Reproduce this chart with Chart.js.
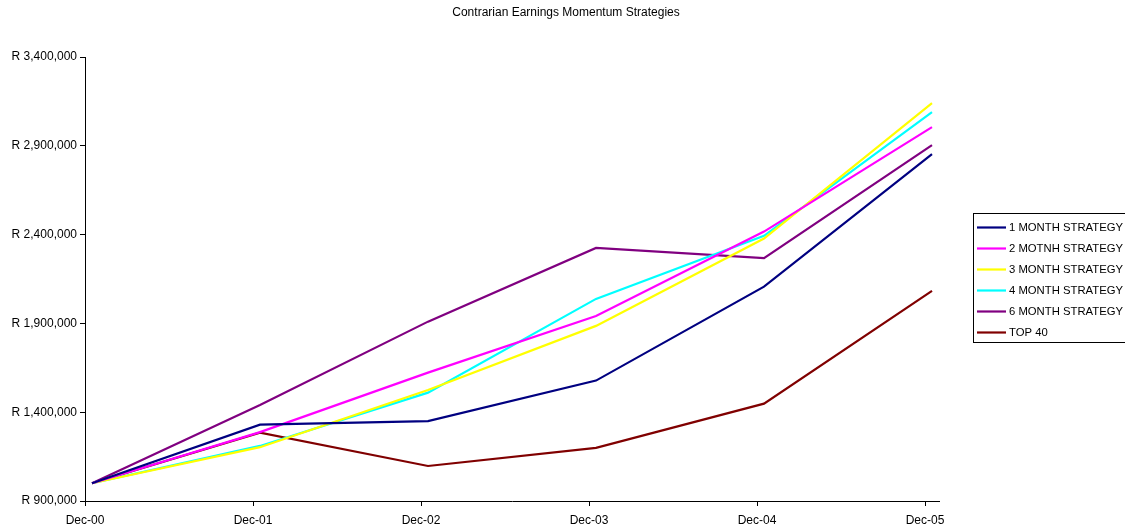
<!DOCTYPE html>
<html>
<head>
<meta charset="utf-8">
<script src="https://cdn.jsdelivr.net/npm/chart.js@4.4.1/dist/chart.umd.min.js"></script>
<style>
  html, body { margin: 0; padding: 0; background: #ffffff; }
  #wrap { width: 1125px; height: 529px; position: relative; }
</style>
</head>
<body>
<div id="wrap"><canvas id="c" width="1125" height="529"></canvas></div>
<script>
// Year-end periods (monthly date axis, one point per December)
const categories = ['Dec-00', 'Dec-01', 'Dec-02', 'Dec-03', 'Dec-04', 'Dec-05'];

// Portfolio values in Rand, starting from R1,000,000
const oneMonth   = [1000000, 1330000, 1350000, 1578000, 2107000, 2853000];
const twoMonth   = [1000000, 1288000, 1623000, 1942000, 2417000, 3005000];
const threeMonth = [1000000, 1203000, 1525000, 1886000, 2378000, 3140000];
const fourMonth  = [1000000, 1210000, 1510000, 2038000, 2393000, 3090000];
const sixMonth   = [1000000, 1440000, 1910000, 2325000, 2267000, 2904000];
const top40      = [1000000, 1285000, 1097000, 1199000, 1448000, 2083000];

const seriesNames = ['1 MONTH STRATEGY', '2 MOTNH STRATEGY', '3 MONTH STRATEGY',
                     '4 MONTH STRATEGY', '6 MONTH STRATEGY', 'TOP 40'];
const seriesColors = ['#000080', '#FF00FF', '#FFFF00', '#00FFFF', '#800080', '#800000'];
const seriesValues = [oneMonth, twoMonth, threeMonth, fourMonth, sixMonth, top40];

const yTickValues = [900000, 1400000, 1900000, 2400000, 2900000, 3400000];

const FONT = '"Liberation Sans", Arial, sans-serif';
const FSIZE = 12;
const LEGEND_FSIZE = 11.3;

// Months since Dec-00; each value is dated mid-December
const monthOf = i => i * 12 + 0.5;

const datasets = seriesValues.map((vals, s) => ({
  label: seriesNames[s],
  data: vals.map((v, i) => ({ x: monthOf(i), y: v })),
  borderColor: seriesColors[s],
  backgroundColor: seriesColors[s],
  borderWidth: 2.2,
  pointRadius: 0,
  pointHoverRadius: 0,
  tension: 0,
  fill: false
}));

const randFmt = v => 'R ' + Math.round(v).toLocaleString('en-US');

// Title and boxed legend drawn on the canvas
const decorations = {
  id: 'decorations',
  afterDraw(chart) {
    const ctx = chart.ctx;
    ctx.save();
    ctx.fillStyle = '#000';
    ctx.font = FSIZE + 'px ' + FONT;
    ctx.textAlign = 'center';
    ctx.textBaseline = 'middle';
    ctx.fillText('Contrarian Earnings Momentum Strategies', 566, 13);

    // legend frame
    const lx = 973.5, ly = 213.5, lw = 170, lh = 129;
    ctx.strokeStyle = '#000';
    ctx.lineWidth = 1;
    ctx.strokeRect(lx, ly, lw, lh);

    ctx.textAlign = 'left';
    ctx.font = LEGEND_FSIZE + 'px ' + FONT;
    const rowY = [227.5, 248.5, 269.5, 290.5, 311.5, 332.5];
    seriesNames.forEach((name, i) => {
      const y = rowY[i];
      ctx.strokeStyle = seriesColors[i];
      ctx.lineWidth = 2.2;
      ctx.beginPath();
      ctx.moveTo(977, y);
      ctx.lineTo(1006, y);
      ctx.stroke();
      ctx.fillStyle = '#000';
      ctx.fillText(name, 1009, y + 0.5);
    });
    ctx.restore();
  }
};

new Chart(document.getElementById('c'), {
  type: 'line',
  data: { datasets },
  options: {
    responsive: false,
    animation: false,
    events: [],
    layout: { padding: { left: 0, right: 186, top: 57, bottom: 0 } },
    plugins: {
      legend: { display: false },
      title: { display: false },
      tooltip: { enabled: false }
    },
    scales: {
      x: {
        type: 'linear',
        min: 0,
        max: 61,
        afterBuildTicks: scale => {
          scale.ticks = categories.map((c, i) => ({ value: i * 12 }));
        },
        afterFit: scale => { scale.height = 28; },
        ticks: {
          autoSkip: false,
          maxRotation: 0,
          padding: 7,
          color: '#000',
          font: { family: FONT, size: FSIZE },
          callback: v => categories[Math.round(v / 12)]
        },
        grid: {
          display: true,
          drawOnChartArea: false,
          drawTicks: true,
          tickLength: 5,
          color: '#000'
        },
        border: { display: true, color: '#000', width: 1 }
      },
      y: {
        type: 'linear',
        min: 900000,
        max: 3400000,
        afterBuildTicks: scale => {
          scale.ticks = yTickValues.map(v => ({ value: v }));
        },
        afterFit: scale => { scale.width = 85; },
        ticks: {
          padding: 3,
          color: '#000',
          font: { family: FONT, size: FSIZE },
          callback: v => randFmt(v)
        },
        grid: {
          display: true,
          drawOnChartArea: false,
          drawTicks: true,
          tickLength: 5,
          color: '#000'
        },
        border: { display: true, color: '#000', width: 1 }
      }
    }
  },
  plugins: [decorations]
});
</script>
</body>
</html>
